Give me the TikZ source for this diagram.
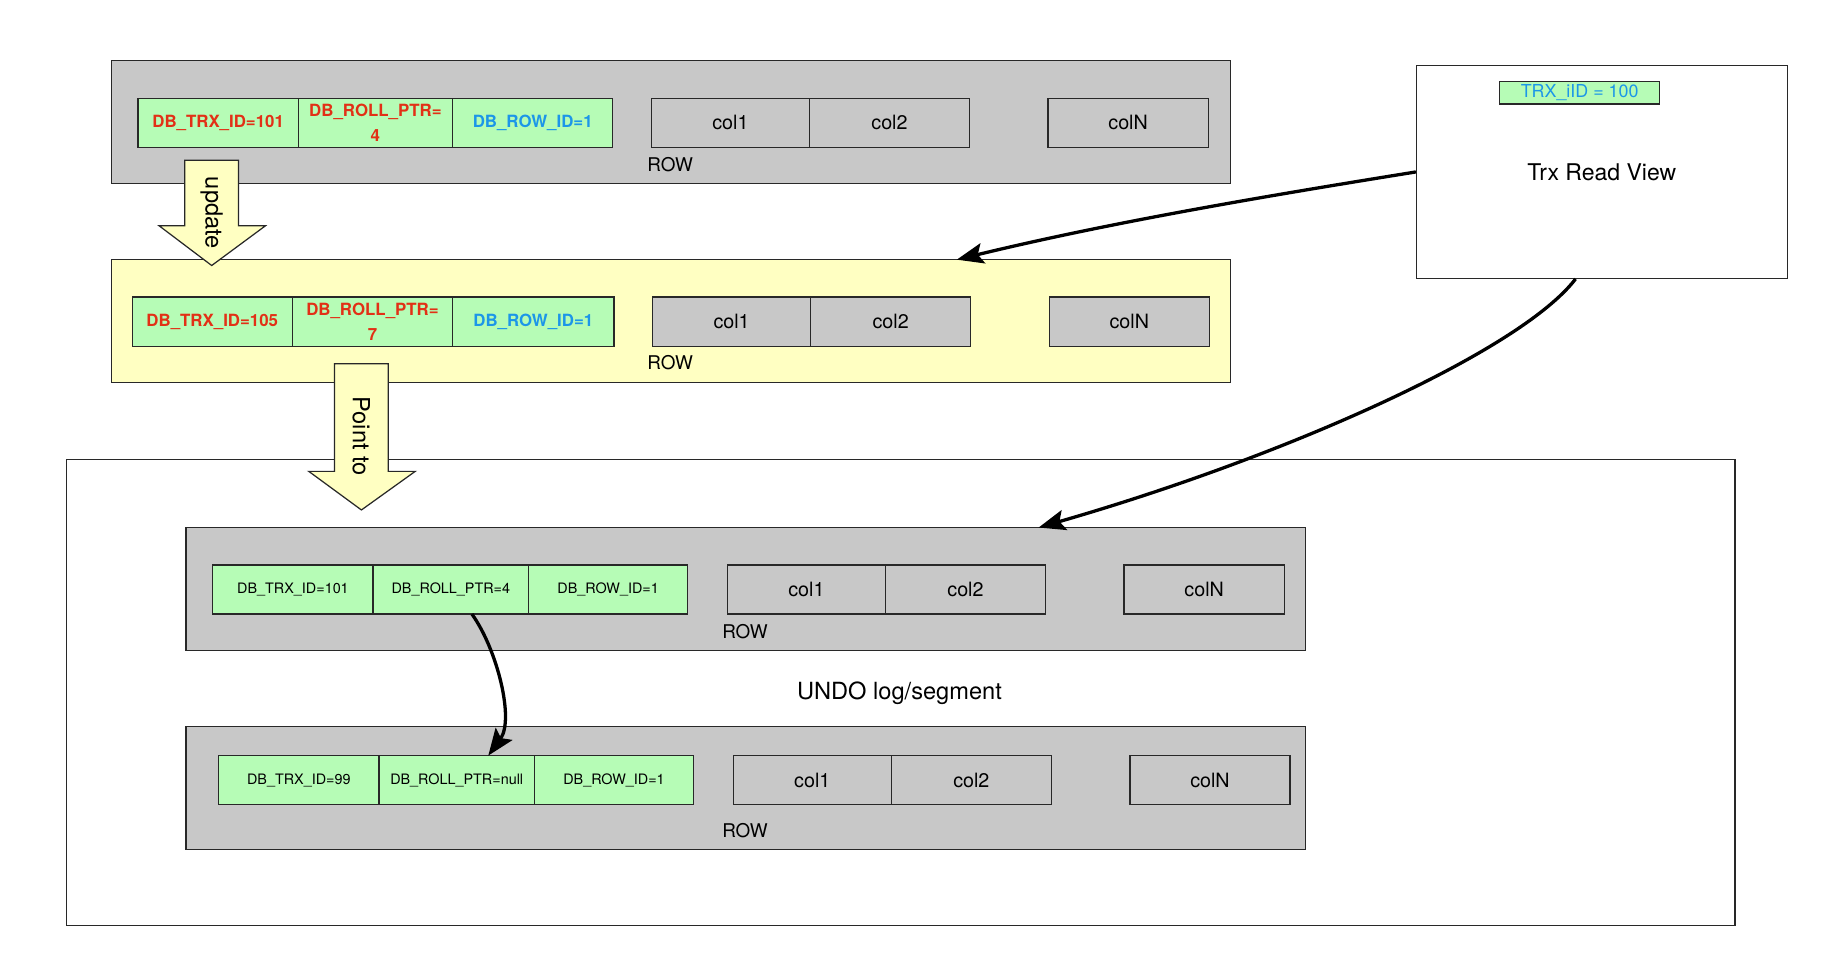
\documentclass[tikz,border=0pt]{standalone}
\usepackage{fontspec}
\setmainfont{TeX Gyre Heros}
\usetikzlibrary{arrows.meta, calc, positioning}

\definecolor{rowgray}{RGB}{200,200,200}
\definecolor{rowyellow}{RGB}{255,255,194}
\definecolor{cellgreen}{RGB}{182,252,182}
\definecolor{idred}{RGB}{226,48,22}
\definecolor{idblue}{RGB}{28,150,232}
\definecolor{edge}{RGB}{40,40,40}

\tikzset{
  rowbox/.style={draw=edge, line width=0.6pt, minimum width=19.14cm, minimum height=2.1cm, inner sep=0pt, outer sep=0pt},
  idcell/.style={draw=edge, line width=0.6pt, fill=cellgreen, minimum width=2.74cm, minimum height=0.84cm, inner sep=0pt, outer sep=0pt, align=center},
  colcell/.style={draw=edge, line width=0.6pt, fill=rowgray, minimum width=2.7cm, minimum height=0.84cm, inner sep=0pt, outer sep=0pt, font=\fontsize{9.6}{11}\selectfont},
  redtxt/.style={text=idred, font=\fontsize{8.2}{12}\selectfont\bfseries},
  bluetxt/.style={text=idblue, font=\fontsize{8.2}{12}\selectfont\bfseries},
  undotxt/.style={font=\fontsize{7}{9}\selectfont},
  rowlabel/.style={font=\fontsize{9.2}{11}\selectfont, inner sep=0pt},
  blockarrow/.style={draw=edge, line width=0.6pt, fill=rowyellow},
  arrowtext/.style={font=\fontsize{11.5}{13}\selectfont, rotate=-90, inner sep=0pt},
  ptr/.style={line width=1.6pt, -{Stealth[length=13pt, width=10pt, inset=2.5pt]}}
}

\begin{document}
\begin{tikzpicture}[x=0.02cm, y=-0.02cm]
\useasboundingbox (0,0) rectangle (1568,828);

% Undo log segment frame
\node[draw=edge, line width=0.6pt, fill=white, anchor=north west, minimum width=28.54cm, minimum height=7.98cm, inner sep=0pt] (undo) at (56,392) {};
\node[font=\fontsize{11.5}{13}\selectfont] (undolbl) at (769,593) {UNDO log/segment};

% Row boxes
\node[rowbox, fill=rowgray, anchor=north west] (cur) at (95,52) {};
\node[rowbox, fill=rowyellow, anchor=north west] (new) at (95,222) {};
\node[rowbox, fill=rowgray, anchor=north west] (ua) at (159,451) {};
\node[rowbox, fill=rowgray, anchor=north west] (ub) at (159,621) {};

% Hidden columns of the current row
\node[idcell, redtxt, anchor=north west] (cur-trx) at (118,84) {DB\_TRX\_ID=101};
\node[idcell, redtxt, right=0pt of cur-trx, minimum width=2.64cm] (cur-roll) {DB\_ROLL\_PTR=\\4};
\node[idcell, bluetxt, right=0pt of cur-roll] (cur-rowid) {DB\_ROW\_ID=1};

% Hidden columns of the updated row
\node[idcell, redtxt, anchor=north west] (new-trx) at (113,254) {DB\_TRX\_ID=105};
\node[idcell, redtxt, right=0pt of new-trx] (new-roll) {DB\_ROLL\_PTR=\\7};
\node[idcell, bluetxt, right=0pt of new-roll, minimum width=2.76cm] (new-rowid) {DB\_ROW\_ID=1};

% Hidden columns of the undo rows
\node[idcell, undotxt, anchor=north west] (ua-trx) at (182,483) {DB\_TRX\_ID=101};
\node[idcell, undotxt, right=0pt of ua-trx, minimum width=2.66cm] (ua-roll) {DB\_ROLL\_PTR=4};
\node[idcell, undotxt, right=0pt of ua-roll, minimum width=2.72cm] (ua-rowid) {DB\_ROW\_ID=1};

\node[idcell, undotxt, anchor=north west] (ub-trx) at (187,646) {DB\_TRX\_ID=99};
\node[idcell, undotxt, right=0pt of ub-trx, minimum width=2.66cm] (ub-roll) {DB\_ROLL\_PTR=null};
\node[idcell, undotxt, right=0pt of ub-roll, minimum width=2.72cm] (ub-rowid) {DB\_ROW\_ID=1};

% User columns and ROW labels
\foreach \r/\x/\y/\lx/\ly in {cur/557/84/573/141, new/558/254/573/310, ua/622/483/637/540, ub/627/646/637/710} {
  \node[colcell, anchor=north west] (\r-col1) at (\x,\y) {col1};
  \node[colcell, right=0pt of \r-col1, minimum width=2.74cm] (\r-col2) {col2};
  \node[colcell, anchor=north west, minimum width=2.74cm] (\r-colN) at ($(\r-col1.north west)+(339,0)$) {colN};
  \node[rowlabel] (\r-lbl) at (\lx,\ly) {ROW};
}

% Block arrows
\filldraw[blockarrow] (158,137) -- (204,137) -- (204,193) -- (227,193) -- (181,227) -- (136,193) -- (158,193) -- cycle;
\node[arrowtext] (updtxt) at (181,182) {update};

\filldraw[blockarrow] (286,311) -- (332,311) -- (332,403) -- (355,403) -- (309,436) -- (264,403) -- (286,403) -- cycle;
\node[arrowtext] (pointtxt) at (309,373) {Point to};

% Read view
\node[draw=edge, line width=0.6pt, fill=white, minimum width=6.34cm, minimum height=3.64cm, inner sep=0pt, font=\fontsize{11.2}{13}\selectfont] (rv) at (1369.5,147) {Trx Read View};
\node[draw=edge, line width=0.6pt, fill=cellgreen, minimum width=2.74cm, minimum height=0.38cm, inner sep=0pt, text=idblue, font=\fontsize{8.7}{10}\selectfont] (rvid) at (1350.5,79.5) {TRX\_iID = 100};

% Pointers
\coordinate (rvhit1) at (818,222);
\coordinate (rvout) at ($(rv.south)+(-22.5,0)$);
\coordinate (rvhit2) at (888,451);
\coordinate (ptrA) at ($(ua-roll.south)+(18,0)$);
\coordinate (ptrB) at ($(ub-roll.north)+(27,0)$);

\draw[ptr] (rv.west) .. controls (1080,168) and (950,190) .. (rvhit1);
\draw[ptr] (rvout) .. controls (1300,300) and (1100,390) .. (rvhit2);
\draw[ptr] (ptrA) .. controls (425,555) and (440,615) .. (ptrB);

\end{tikzpicture}
\end{document}
